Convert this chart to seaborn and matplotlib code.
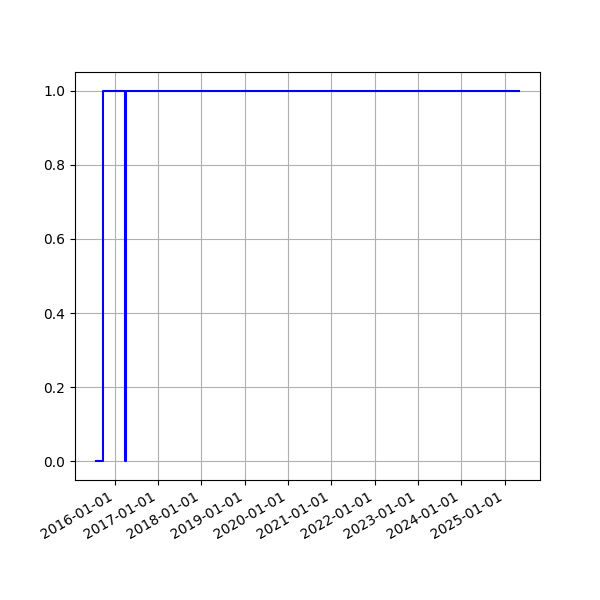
import matplotlib
matplotlib.use("Agg")
import matplotlib.pyplot as plt
import matplotlib.dates as mdates
import seaborn as sns
import pandas as pd

# série em degrau (0/1) ao longo do tempo
datas = ["2015-07-27", "2015-09-22", "2016-03-30", "2016-04-05", "2025-05-02"]
valores = [0, 1, 0, 1, 1]

df = pd.DataFrame({"data": pd.to_datetime(datas), "valor": valores})

fig, ax = plt.subplots(figsize=(6, 6), dpi=100)
sns.lineplot(data=df, x="data", y="valor", color="blue", drawstyle="steps-post", ax=ax)

ax.xaxis.set_major_locator(mdates.YearLocator())
ax.xaxis.set_major_formatter(mdates.DateFormatter("%Y-%m-%d"))
ax.set_xlabel("")
ax.set_ylabel("")
ax.grid(True)
fig.autofmt_xdate()

plt.savefig("out.png", dpi=100)
plt.close()
